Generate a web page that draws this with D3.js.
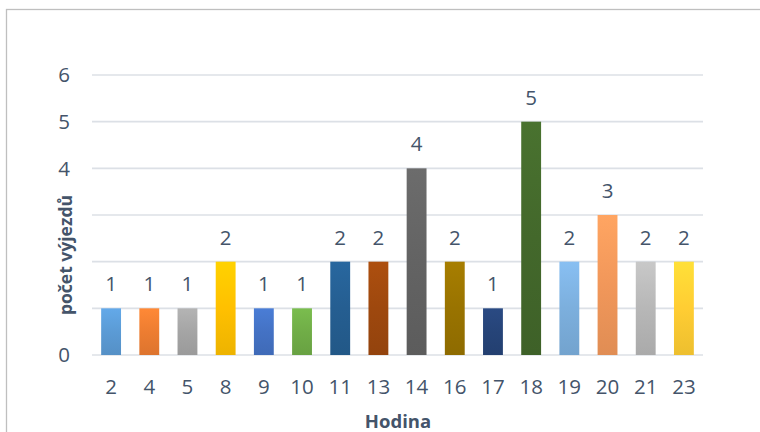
<!DOCTYPE html>
<html>
<head>
<meta charset="utf-8">
<script src="https://cdn.jsdelivr.net/npm/d3@7"></script>
<style>
  html, body { margin: 0; padding: 0; background: #fff; }
  svg { display: block; }
</style>
</head>
<body>
<svg id="chart" width="760" height="432"></svg>
<script>
// Počet výjezdů podle hodiny
const hours = ["2", "4", "5", "8", "9", "10", "11", "13", "14", "16", "17", "18", "19", "20", "21", "23"];
const counts = [1, 1, 1, 2, 1, 1, 2, 2, 4, 2, 1, 5, 2, 3, 2, 2];
const barColors = ["#5B9BD5", "#ED7D31", "#A5A5A5", "#FFC000", "#4472C4", "#70AD47",
                   "#255E91", "#9E480E", "#636363", "#997300", "#264478", "#43682B",
                   "#7CAFDD", "#F1975A", "#B7B7B7", "#FFCD33"];
const yTicks = [0, 1, 2, 3, 4, 5, 6];
const xTitle = "Hodina";
const yTitle = "počet výjezdů";

const textColor = "#44546A";
const font = "'Open Sans', 'Liberation Sans', sans-serif";
const labelSize = 20.5;

const svg = d3.select("#chart");

// chart frame
svg.append("rect")
  .attr("x", 6.5).attr("y", 9.5)
  .attr("width", 800).attr("height", 500)
  .attr("fill", "#fff")
  .attr("stroke", "#BFBFBF").attr("stroke-width", 1.3);

const plot = { left: 92, right: 703, top: 75, bottom: 355 };

const x = d3.scaleBand().domain(hours).range([plot.left, plot.right]).paddingInner(0.48).paddingOuter(0.24);
const y = d3.scaleLinear().domain([0, 6]).range([plot.bottom, plot.top]);

// vertical gradients: lighter at the top, darker at the base
const defs = svg.append("defs");
barColors.forEach((c, i) => {
  const g = defs.append("linearGradient").attr("id", "g" + i)
    .attr("x1", 0).attr("y1", 0).attr("x2", 0).attr("y2", 1);
  g.append("stop").attr("offset", "0%").attr("stop-color", d3.color(c).brighter(0.25).formatHex());
  g.append("stop").attr("offset", "50%").attr("stop-color", c);
  g.append("stop").attr("offset", "100%").attr("stop-color", d3.color(c).darker(0.2).formatHex());
});

// gridlines
svg.append("g").selectAll("line").data(yTicks).join("line")
  .attr("x1", plot.left).attr("x2", plot.right)
  .attr("y1", d => y(d)).attr("y2", d => y(d))
  .attr("stroke", "#DCE0E6").attr("stroke-width", 1.6);

// y axis tick labels
svg.append("g").selectAll("text").data(yTicks).join("text")
  .attr("x", 70).attr("y", d => y(d))
  .attr("dy", "0.36em")
  .attr("text-anchor", "end")
  .attr("font-family", font).attr("font-size", labelSize)
  .attr("fill", textColor)
  .text(d => d);

// bars
svg.append("g").selectAll("rect").data(counts).join("rect")
  .attr("x", (d, i) => x(hours[i]))
  .attr("width", x.bandwidth())
  .attr("y", d => y(d))
  .attr("height", d => y(0) - y(d))
  .attr("fill", (d, i) => `url(#g${i})`);

// value labels
svg.append("g").selectAll("text").data(counts).join("text")
  .attr("x", (d, i) => x(hours[i]) + x.bandwidth() / 2)
  .attr("y", d => y(d) - 17)
  .attr("text-anchor", "middle")
  .attr("font-family", font).attr("font-size", labelSize)
  .attr("fill", textColor)
  .text(d => d);

// x axis labels
svg.append("g").selectAll("text").data(hours).join("text")
  .attr("x", d => x(d) + x.bandwidth() / 2)
  .attr("y", 387)
  .attr("dy", "0.36em")
  .attr("text-anchor", "middle")
  .attr("font-family", font).attr("font-size", labelSize)
  .attr("fill", textColor)
  .text(d => d);

// axis titles
svg.append("text")
  .attr("x", 398).attr("y", 428)
  .attr("text-anchor", "middle")
  .attr("font-family", font).attr("font-size", 18.5).attr("font-weight", "bold")
  .attr("fill", textColor)
  .text(xTitle);

const yt = svg.append("g").attr("transform", "translate(66,255) rotate(-90)");
yt.append("rect").attr("x", -70).attr("y", -12).attr("width", 140).attr("height", 24).attr("fill", "#fff");
yt.append("text")
  .attr("text-anchor", "middle").attr("dy", "0.35em")
  .attr("font-family", font).attr("font-size", 17.5).attr("font-weight", "bold")
  .attr("fill", textColor)
  .text(yTitle);
</script>
</body>
</html>
